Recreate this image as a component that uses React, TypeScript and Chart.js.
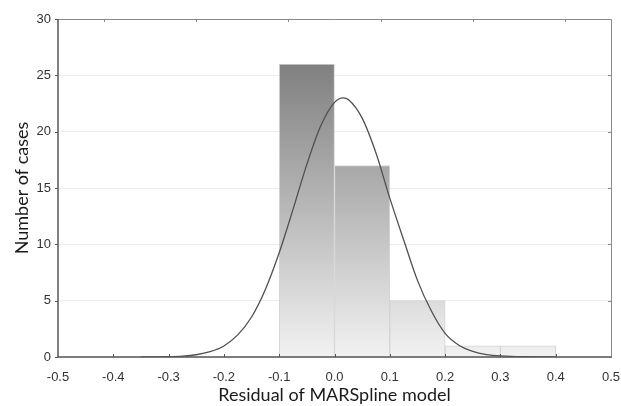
import React, { useEffect, useRef } from "react";
import { Chart, registerables } from "chart.js";

Chart.register(...registerables);

// Histogram bins (centres) and counts
const binCenters = [-0.05, 0.05, 0.15, 0.25, 0.35];
const binCounts = [26, 17, 5, 1, 1];

// Fitted normal density curve (expected counts)
const curveX = [
  -0.35, -0.3, -0.275, -0.25, -0.225, -0.2, -0.175, -0.15, -0.125, -0.1, -0.075, -0.05, -0.025, 0,
  0.016, 0.025, 0.05, 0.075, 0.1, 0.125, 0.15, 0.175, 0.2, 0.225, 0.25, 0.275, 0.3, 0.35, 0.4,
];
const curveY = [
  0.0, 0.03, 0.08, 0.2, 0.47, 0.98, 1.96, 3.55, 6.0, 9.25, 13.1, 17.1, 20.5, 22.6,
  23.0, 22.85, 21.2, 18.1, 14.1, 10.4, 6.8, 4.1, 2.1, 1.05, 0.5, 0.22, 0.1, 0.02, 0.0,
];

const xTicks = [-0.5, -0.4, -0.3, -0.2, -0.1, 0, 0.1, 0.2, 0.3, 0.4, 0.5];
const yTicks = [0, 5, 10, 15, 20, 25, 30];
const topTickCount = 6;

const xTitle = "Residual of MARSpline model";
const yTitle = "Number of cases";

const framePlugin = {
  id: "frameTicks",
  afterDatasetsDraw(chart: any) {
    const { ctx, chartArea } = chart;
    const { left, right, top, bottom } = chartArea;
    const xs = chart.scales.x;
    const ys = chart.scales.y;
    ctx.save();
    // top and right frame
    ctx.strokeStyle = "#8a8a8a";
    ctx.lineWidth = 1;
    ctx.beginPath();
    ctx.moveTo(left, top + 0.5);
    ctx.lineTo(right + 0.5, top + 0.5);
    ctx.lineTo(right + 0.5, bottom);
    ctx.stroke();
    // top ticks (inward)
    ctx.beginPath();
    const w = (right - left) / topTickCount;
    for (let i = 0; i < topTickCount; i++) {
      const px = Math.round(left + w * (i + 0.5)) + 0.5;
      ctx.moveTo(px, top);
      ctx.lineTo(px, top + 3);
    }
    // right ticks (inward)
    yTicks.slice(1, -1).forEach((v) => {
      const py = Math.round(ys.getPixelForValue(v)) + 0.5;
      ctx.moveTo(right, py);
      ctx.lineTo(right - 3, py);
    });
    ctx.stroke();
    // left and bottom axes
    ctx.strokeStyle = "#555";
    ctx.lineWidth = 1.5;
    ctx.beginPath();
    ctx.moveTo(left, top);
    ctx.lineTo(left, bottom);
    ctx.lineTo(right + 1, bottom);
    ctx.stroke();
    ctx.lineWidth = 1;
    ctx.beginPath();
    xTicks.slice(1, -1).forEach((v) => {
      const px = Math.round(xs.getPixelForValue(v)) + 0.5;
      ctx.moveTo(px, bottom);
      ctx.lineTo(px, bottom - 3);
    });
    yTicks.forEach((v) => {
      const py = Math.round(ys.getPixelForValue(v)) + 0.5;
      ctx.moveTo(left, py);
      ctx.lineTo(left - 3, py);
    });
    ctx.stroke();
    ctx.restore();
  },
};

export default function App() {
  const canvasRef = useRef<HTMLCanvasElement | null>(null);

  useEffect(() => {
    if (!canvasRef.current) return;
    const chart = new Chart(canvasRef.current, {
      type: "bar",
      data: {
        datasets: [
          {
            type: "line",
            data: curveX.map((x, i) => ({ x, y: curveY[i] })),
            borderColor: "#505050",
            borderWidth: 1.3,
            pointRadius: 0,
            cubicInterpolationMode: "monotone",
            fill: false,
            order: 0,
          } as any,
          {
            type: "bar",
            data: binCenters.map((x, i) => ({ x, y: binCounts[i] })),
            backgroundColor: (c: any) => {
              const { chart: ch } = c;
              const area = ch.chartArea;
              if (!area) return "#aaa";
              const g = ch.ctx.createLinearGradient(0, area.top, 0, area.bottom);
              g.addColorStop(0, "#6e6e6e");
              g.addColorStop(1, "#f2f2f2");
              return g;
            },
            borderColor: "#d4d4d4",
            borderWidth: 1,
            barPercentage: 1,
            categoryPercentage: 1,
            order: 1,
          } as any,
        ],
      },
      options: {
        animation: false,
        responsive: false,
        maintainAspectRatio: false,
        layout: { padding: { top: 19, right: 0, left: 0, bottom: 0 } },
        plugins: { legend: { display: false }, tooltip: { enabled: false } },
        scales: {
          x: {
            type: "linear",
            offset: false,
            min: -0.5,
            max: 0.5,
            afterBuildTicks: (s: any) => {
              s.ticks = xTicks.map((v) => ({ value: v }));
            },
            afterFit: (s: any) => {
              s.height = 49;
              s.paddingRight = 10;
            },
            grid: { display: false, offset: false },
            border: { display: false },
            ticks: {
              color: "#333",
              font: { family: "Liberation Sans", size: 13 },
              padding: 5,
              maxRotation: 0,
              callback: (v: any) => Number(v).toFixed(1),
            },
            title: {
              display: true,
              text: xTitle,
              color: "#1a1a1a",
              font: { family: "Lato", size: 18 },
              padding: { top: 5, bottom: 0 },
            },
          },
          y: {
            type: "linear",
            min: 0,
            max: 30,
            afterBuildTicks: (s: any) => {
              s.ticks = yTicks.map((v) => ({ value: v }));
            },
            afterFit: (s: any) => {
              s.width = 58;
            },
            grid: { color: "#ececec", drawTicks: false },
            border: { display: false },
            ticks: {
              color: "#333",
              font: { family: "Liberation Sans", size: 13 },
              padding: 7,
            },
            title: {
              display: true,
              text: yTitle,
              color: "#1a1a1a",
              font: { family: "Lato", size: 18 },
              padding: { top: 11, bottom: 4 },
            },
          },
        },
      },
      plugins: [framePlugin],
    });
    return () => chart.destroy();
  }, []);

  return (
    <div style={{ position: "fixed", left: 0, top: 0, width: 621, height: 406, background: "#fff" }}>
      <canvas ref={canvasRef} width={621} height={406} style={{ display: "block" }} />
    </div>
  );
}
